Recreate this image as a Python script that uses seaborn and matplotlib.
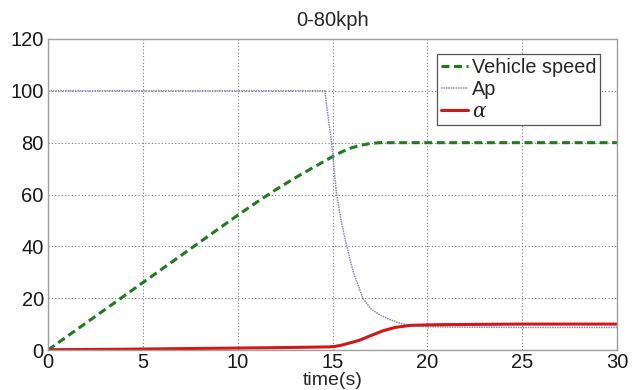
import matplotlib
matplotlib.use("Agg")
import matplotlib.pyplot as plt
import seaborn as sns
import pandas as pd

# ---- data ----
t_speed = [0, 1, 2, 3, 4, 5, 6, 7, 8, 9, 10, 11, 12, 13, 14, 15, 15.5, 16, 16.5, 17, 17.5, 18, 20, 25, 30]
speed = [0, 5.2, 10.4, 15.6, 20.8, 26, 31.2, 36.4, 41.6, 46.8, 52, 57, 61.8, 66.3, 70.5, 74.6, 76.5, 78, 79, 79.7, 80, 80, 80, 80, 80]

t_ap = [0, 14.6, 14.75, 14.95, 15.2, 15.45, 15.75, 16.1, 16.6, 17, 17.5, 18, 18.5, 19, 19.5, 20, 22, 25, 30]
ap = [100, 100, 91, 80, 61, 50, 40, 30, 20, 16, 13.5, 11.8, 10.5, 9.6, 9.2, 9.0, 8.8, 8.7, 8.7]

t_alpha = [0, 4, 8, 12, 14.8, 15.1, 15.5, 15.9, 16.4, 17, 17.65, 18.3, 19.1, 20, 21, 23, 25, 30]
alpha = [0.1, 0.3, 0.6, 0.9, 1.2, 1.35, 1.9, 2.7, 3.7, 5.5, 7.4, 8.7, 9.5, 9.7, 9.8, 9.9, 10, 10]

title = "0-80kph"
xlabel = "time(s)"
labels = ["Vehicle speed", "Ap", r"$\alpha$"]
xticks = [0, 5, 10, 15, 20, 25, 30]
yticks = [0, 20, 40, 60, 80, 100, 120]

sns.set_style("white")
plt.rcParams["font.family"] = ["Liberation Sans", "DejaVu Sans"]
plt.rcParams["mathtext.fontset"] = "dejavuserif"

fig = plt.figure(figsize=(6.4, 3.9), dpi=100)
L, R, T, B = 48, 617, 39, 350
ax = fig.add_axes([L / 640, 1 - B / 390, (R - L) / 640, (B - T) / 390])

df_s = pd.DataFrame({"t": t_speed, "v": speed})
df_a = pd.DataFrame({"t": t_ap, "v": ap})
df_al = pd.DataFrame({"t": t_alpha, "v": alpha})

sns.lineplot(data=df_s, x="t", y="v", ax=ax, color="#1e7b1e", linewidth=2.2,
             linestyle=(0, (2.6, 1.5)), label=labels[0])
sns.lineplot(data=df_a, x="t", y="v", ax=ax, color="#8585cc", linewidth=1.1,
             linestyle=(0, (1, 0.6)), label=labels[1])
sns.lineplot(data=df_al, x="t", y="v", ax=ax, color="#d01818", linewidth=2.2,
             label=labels[2])

ax.set_xlim(0, 30)
ax.set_ylim(0, 120)
ax.set_xticks(xticks)
ax.set_yticks(yticks)
ax.tick_params(axis="both", labelsize=14.5, length=0, colors="#1a1a1a")
ax.tick_params(axis="y", pad=3)
ax.tick_params(axis="x", pad=2)
ax.set_xlabel(xlabel, fontsize=14, labelpad=0)
ax.set_ylabel("")
ax.set_title(title, fontsize=14.5, pad=9)
ax.grid(True, linestyle=(0, (1, 2)), color="#777777", linewidth=0.8)
for s in ax.spines.values():
    s.set_color("#a0a0a0")
    s.set_linewidth(1.0)

leg = ax.legend(loc="upper right",
                bbox_to_anchor=((600 - L) / (R - L), (B - 54) / (B - T)),
                fontsize=14.3, frameon=True, fancybox=False, handlelength=1.35,
                handletextpad=0.2, borderpad=0.2, labelspacing=0.15,
                borderaxespad=0)
leg.get_frame().set_edgecolor("#555555")
leg.get_frame().set_linewidth(0.9)
leg.get_frame().set_alpha(1)

fig.savefig("out.png", dpi=100)
